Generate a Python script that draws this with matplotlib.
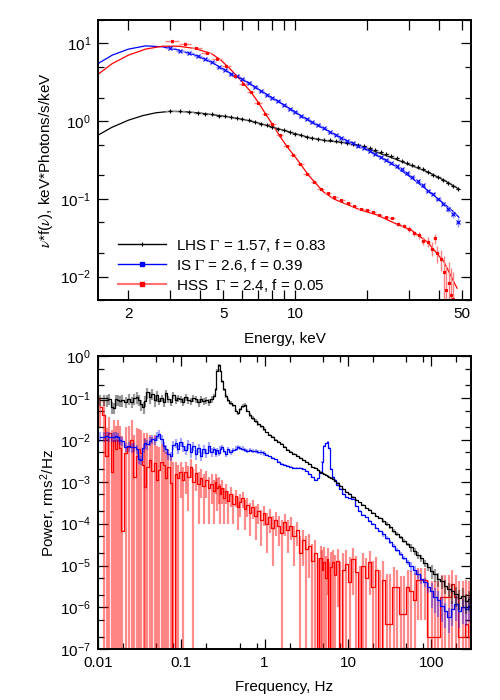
import numpy as np
import matplotlib
matplotlib.use('Agg')
import matplotlib.pyplot as plt
from matplotlib.ticker import FixedLocator, FixedFormatter, LogLocator, NullFormatter
from matplotlib.lines import Line2D

plt.rcParams['font.family'] = 'Liberation Sans'
plt.rcParams['mathtext.fontset'] = 'stix'
plt.rcParams['font.size'] = 11

# ---------------- energy spectra (top panel) ----------------
# model curves
lhs_model_e = [1.49, 1.7, 2.0, 2.3, 2.6, 3.0, 3.5, 4.0, 5.0, 6.0, 7.0, 8.0, 9.0, 10, 11.6,
               13.5, 16, 18.8, 22, 26, 30.5, 36, 42, 46, 48.5]
lhs_model = [0.66, 0.83, 1.03, 1.18, 1.28, 1.34, 1.32, 1.27, 1.16, 1.06, 0.95, 0.84, 0.76, 0.69, 0.61,
             0.56, 0.53, 0.48, 0.40, 0.33, 0.27, 0.222, 0.174, 0.148, 0.134]

is_model_e = [1.49, 1.71, 2.0, 2.36, 2.77, 3.25, 3.8, 4.45, 5.34, 6.27, 7.36, 8.6, 10.2, 12,
              14, 16.7, 19.5, 22.5, 26, 30.5, 36, 42, 45.7, 48.6]
is_model = [5.5, 7.07, 8.45, 9.3, 9.05, 8.2, 7.07, 5.75, 4.15, 3.2, 2.35, 1.75, 1.26, 0.93,
            0.73, 0.55, 0.45, 0.35, 0.27, 0.19, 0.128, 0.087, 0.07, 0.058]

hss_model_e = [1.49, 1.71, 2.0, 2.36, 2.77, 3.25, 3.8, 4.45, 4.85, 5.3, 5.65, 6.0, 6.5, 7.0, 7.5,
               8.1, 8.6, 9.2, 10.2, 11.4, 13.1, 14.5, 16, 18.8, 22.1, 26, 30.5, 35.8, 42, 47.7]
hss_model = [4.0, 5.5, 7.07, 8.45, 9.2, 9.2, 8.6, 7.4, 6.2, 4.8, 3.9, 3.2, 2.4, 1.75, 1.25,
             0.87, 0.65, 0.48, 0.32, 0.2, 0.124, 0.10, 0.088, 0.072, 0.062, 0.049, 0.040, 0.028, 0.0156, 0.0071]

# data points
e_hard = [3.0, 3.3, 3.6, 3.9, 4.2, 4.5, 4.8, 5.1, 5.4, 5.7,
          6.0, 6.4, 6.8, 7.2, 7.6, 8.0, 8.5, 9.0, 9.5, 10.0,
          10.6, 11.2, 11.8, 12.5, 13.2, 14.0, 14.8, 15.6, 16.5, 17.4,
          18.4, 19.4, 20.5, 21.6, 22.8, 24.0, 25.3, 26.6, 28.0, 29.5,
          31.0, 32.6, 34.3, 36.0, 37.8, 39.7, 41.7, 43.8, 46.0, 48.2]
lhs_flux = [1.34, 1.34, 1.32, 1.28, 1.25, 1.22, 1.18, 1.15, 1.12, 1.09,
            1.06, 1.03, 0.98, 0.93, 0.88, 0.84, 0.80, 0.76, 0.72, 0.69,
            0.66, 0.63, 0.61, 0.595, 0.58, 0.57, 0.555, 0.545, 0.53, 0.515,
            0.495, 0.475, 0.45, 0.425, 0.40, 0.38, 0.355, 0.335, 0.31, 0.29,
            0.27, 0.255, 0.24, 0.222, 0.205, 0.19, 0.175, 0.16, 0.148, 0.136]
lhs_relerr = [0.008] * 40 + [0.012, 0.012, 0.015, 0.015, 0.018, 0.02, 0.022, 0.025, 0.03, 0.035]
is_flux = [8.7, 8.1, 7.5, 6.9, 6.3, 5.7, 5.0, 4.5, 4.1, 3.8,
           3.45, 3.1, 2.75, 2.45, 2.2, 2.0, 1.8, 1.6, 1.45, 1.3,
           1.18, 1.06, 0.97, 0.89, 0.81, 0.73, 0.67, 0.61, 0.56, 0.52,
           0.48, 0.45, 0.41, 0.38, 0.35, 0.32, 0.29, 0.265, 0.24, 0.215,
           0.19, 0.17, 0.15, 0.128, 0.115, 0.10, 0.087, 0.074, 0.063, 0.050]
is_relerr = [0.012] * 40 + [0.015, 0.02, 0.02, 0.025, 0.03, 0.04, 0.05, 0.08, 0.1, 0.12]

e_hss = [3.05, 3.45, 3.85, 4.25, 4.7, 5.15, 5.6, 6.05, 6.5, 7.0,
         7.5, 8.0, 8.6, 9.2, 9.8, 10.5, 11.2, 12.0, 12.8, 13.7,
         14.6, 15.6, 16.6, 17.7, 18.8, 20.0, 21.2, 22.5, 24.0, 25.5,
         27.0, 28.5, 30.0, 31.5, 33.0, 34.5, 36.0, 37.5, 38.5, 39.5,
         41.0, 42.0, 43.0, 44.0, 45.0, 46.0]
hss_flux = [10.7, 9.9, 8.7, 7.6, 6.3, 5.1, 3.8, 3.0, 2.35, 1.72,
            1.25, 0.92, 0.66, 0.48, 0.37, 0.28, 0.21, 0.165, 0.135, 0.118,
            0.105, 0.096, 0.089, 0.082, 0.075, 0.071, 0.067, 0.062, 0.058, 0.056,
            0.047, 0.045, 0.041, 0.036, 0.034, 0.029, 0.028, 0.023, 0.031, 0.020,
            0.017, 0.0115, 0.0068, 0.0082, 0.0058, 0.0052]
hss_relerr = [0.04] * 8 + [0.03] * 22 + [0.06, 0.06, 0.08, 0.08, 0.1, 0.12] + \
             [0.15, 0.2, 0.15, 0.25, 0.3] + [0.6, 1.1, 0.9, 1.2, 1.2]

legend_labels = [r'LHS $\Gamma$ = 1.57, f = 0.83',
                 r'IS $\Gamma$ = 2.6, f = 0.39',
                 r'HSS  $\Gamma$ = 2.4, f = 0.05']

# ---------------- power spectra (bottom panel) ----------------
freq = [0.0107, 0.0117, 0.0127, 0.0137, 0.0146, 0.0156, 0.0166, 0.0176, 0.0186, 0.0195,
        0.0215, 0.0234, 0.0254, 0.0273, 0.0293, 0.0313, 0.0332, 0.0352, 0.0371, 0.0391,
        0.042, 0.0449, 0.0479, 0.0508, 0.054, 0.058, 0.062, 0.066, 0.070, 0.075,
        0.080, 0.086, 0.092, 0.098, 0.105, 0.113, 0.121, 0.130, 0.140, 0.150,
        0.161, 0.173, 0.186, 0.200, 0.215, 0.231, 0.245, 0.258, 0.270, 0.282,
        0.295, 0.310, 0.327, 0.345, 0.365, 0.39, 0.42, 0.45, 0.48, 0.51,
        0.545, 0.58, 0.62, 0.67, 0.72, 0.78, 0.84, 0.91, 0.98, 1.06,
        1.15, 1.25, 1.36, 1.48, 1.61, 1.75, 1.9, 2.07, 2.25, 2.45,
        2.67, 2.9, 3.15, 3.43, 3.73, 4.05, 4.4, 4.7, 4.95, 5.2,
        5.45, 5.7, 5.95, 6.25, 6.6, 7.0, 7.5, 8.1, 8.8, 9.6,
        10.5, 11.5, 12.6, 13.8, 15.1, 16.6, 18.2, 20, 22, 24.2,
        26.6, 29.3, 32.2, 35.4, 39, 43, 47.3, 52, 57, 63,
        69, 76, 84, 92, 101, 111, 122, 134, 148, 163,
        179, 197, 217, 239, 263, 285]

pds_lhs = [0.090, 0.090, 0.088, 0.095, 0.060, 0.058, 0.092, 0.090, 0.085, 0.088,
           0.082, 0.095, 0.080, 0.098, 0.105, 0.090, 0.070, 0.060, 0.085, 0.135,
           0.105, 0.125, 0.088, 0.115, 0.085, 0.098, 0.078, 0.130, 0.092, 0.080,
           0.115, 0.090, 0.100, 0.095, 0.082, 0.105, 0.090, 0.085, 0.100, 0.092,
           0.078, 0.095, 0.083, 0.090, 0.080, 0.095, 0.110, 0.16, 0.45, 0.60,
           0.45, 0.25, 0.16, 0.11, 0.090, 0.075, 0.066, 0.050, 0.043, 0.053,
           0.065, 0.068, 0.050, 0.040, 0.033, 0.028, 0.024, 0.021, 0.018, 0.015,
           0.013, 0.0115, 0.0100, 0.0091, 0.0080, 0.0068, 0.0058, 0.0052, 0.0046, 0.0041,
           0.0037, 0.0033, 0.0029, 0.0026, 0.0023, 0.0021, 0.0019, 0.0017, 0.0016, 0.0015,
           0.00145, 0.0014, 0.0013, 0.00125, 0.00115, 0.00105, 0.00092, 0.00080, 0.00068, 0.00058,
           5.0e-4, 4.3e-4, 3.7e-4, 3.2e-4, 2.8e-4, 2.4e-4, 2.1e-4, 1.8e-4, 1.55e-4, 1.35e-4,
           1.15e-4, 9.8e-5, 8.2e-5, 6.8e-5, 5.6e-5, 4.7e-5, 3.9e-5, 3.2e-5, 2.7e-5, 2.2e-5,
           1.8e-5, 1.5e-5, 1.15e-5, 9.2e-6, 7.5e-6, 6.2e-6, 4.8e-6, 4.2e-6, 3.3e-6, 2.8e-6,
           2.4e-6, 2.1e-6, 1.7e-6, 1.9e-6, 1.4e-6, 1.6e-6]
pds_lhs_relerr = [0.3] * 24 + [0.2] * 22 + [0.1] * 23 + [0.05] * 41 + \
                 [0.1] * 8 + [0.2] * 6 + [0.35] * 6 + [0.5] * 6

pds_is = [0.0120, 0.0120, 0.0122, 0.0120, 0.0118, 0.0120, 0.0121, 0.0119, 0.0100, 0.0095,
          0.0068, 0.0070, 0.0066, 0.0068, 0.0060, 0.0035, 0.0033, 0.0065, 0.0085, 0.0078,
          0.0095, 0.0105, 0.0100, 0.0125, 0.0140, 0.0105, 0.0070, 0.0060, 0.0045, 0.0042,
          0.0075, 0.0085, 0.0060, 0.0090, 0.0070, 0.0058, 0.0080, 0.0050, 0.0072, 0.0045,
          0.0065, 0.0042, 0.0060, 0.0048, 0.0070, 0.0052, 0.0060, 0.0045, 0.0058, 0.0048,
          0.0062, 0.0068, 0.0055, 0.0045, 0.0060, 0.0050, 0.0058, 0.0062, 0.0068, 0.0065,
          0.0062, 0.0058, 0.0055, 0.0057, 0.0054, 0.0055, 0.0052, 0.0050, 0.0048, 0.0044,
          0.0040, 0.0037, 0.0034, 0.0030, 0.0027, 0.0025, 0.0024, 0.0022, 0.0021, 0.0021,
          0.0021, 0.0020, 0.0018, 0.0015, 0.0013, 0.0011, 0.0012, 0.0016, 0.0030, 0.0070,
          0.0082, 0.0088, 0.0065, 0.0020, 0.0013, 0.0011, 8.5e-4, 6.8e-4, 5.0e-4, 4.3e-4,
          4.0e-4, 3.8e-4, 2.6e-4, 2.0e-4, 1.65e-4, 1.4e-4, 1.15e-4, 9.8e-5, 8.0e-5, 6.6e-5,
          5.5e-5, 4.6e-5, 3.7e-5, 2.9e-5, 2.4e-5, 1.9e-5, 1.5e-5, 1.2e-5, 9.5e-6, 7.8e-6,
          6.2e-6, 4.8e-6, 4.0e-6, 3.0e-6, 2.4e-6, 1.8e-6, 1.5e-6, 1.1e-6, 8e-7, 6e-7,
          9e-7, 1.2e-6, 8e-7, 1.0e-6, 9e-7, 1.1e-6]
pds_is_relerr = [0.25] * 46 + [0.12] * 23 + [0.05] * 41 + \
                [0.12] * 8 + [0.25] * 6 + [0.6] * 12

pds_hss = [0.060, 0.040, 0.0040, 0.0145, 0.0017, 0.0100, 0.0060, 0.0100, 0.0065, 6.5e-5,
           0.0048, 0.0068, 0.0100, 0.0013, 0.0041, 0.0060, 0.0048, 0.0025, 7.6e-4, 0.0023,
           0.0033, 0.0018, 0.0028, 0.0011, 0.0019, 0.0030, 0.0025, 0.0012, 0.0022, 9.3e-4,
           1e-8, 0.0015, 0.0012, 0.0017, 0.0011, 0.0017, 0.0013, 0.0023, 0.0010, 0.0016,
           9e-4, 0.0012, 8e-4, 0.0011, 7e-4, 9e-4, 6e-4, 0.0010, 7e-4, 8e-4,
           5e-4, 7e-4, 4e-4, 6e-4, 3.5e-4, 5e-4, 3e-4, 4.5e-4, 2.5e-4, 3.2e-4,
           4e-4, 2.2e-4, 2.8e-4, 1.8e-4, 2.5e-4, 1.5e-4, 2e-4, 1.2e-4, 1.8e-4, 1e-4,
           1.4e-4, 8e-5, 1.2e-4, 9e-5, 6e-5, 1.1e-4, 7e-5, 9e-5, 5e-5, 7e-5,
           2e-5, 4e-5, 2.5e-5, 3e-5, 1.3e-5, 2e-5, 1e-8, 1.5e-5, 8e-6, 1.2e-5,
           5e-6, 1.4e-5, 1e-8, 9e-6, 1.2e-5, 6e-6, 1.3e-5, 1e-8, 8e-6, 1.1e-5,
           4e-6, 1.4e-5, 7e-6, 1e-8, 1e-5, 5e-6, 1.2e-5, 3e-6, 8e-6, 1e-8,
           4.5e-6, 4e-7, 4e-7, 3e-6, 3e-6, 7e-7, 7e-7, 3e-6, 2.5e-6, 1.5e-6,
           4.5e-6, 4.5e-6, 4.5e-6, 2e-7, 2e-7, 2e-7, 2e-7, 1.8e-6, 1.8e-6, 1.8e-6,
           3.7e-6, 1.8e-6, 2e-7, 2e-7, 4e-7, 2e-7]
pds_hss_err = [0.04, 0.05, 0.015, 0.02, 0.015, 0.02, 0.015, 0.02, 0.015, 0.012,
               0.015, 0.015, 0.02, 0.012, 0.015, 0.012, 0.012, 0.012, 0.010, 0.012,
               0.010, 0.010, 0.010, 0.006, 0.005, 0.005, 0.005, 0.004, 0.004, 0.003,
               0.003, 0.0015, 0.0013, 0.0013, 0.0012, 0.0012, 0.0011, 0.0011, 0.0010, 0.0010,
               8e-4, 8e-4, 7e-4, 7e-4, 6e-4, 6e-4, 5e-4, 5e-4, 5e-4, 5e-4,
               4e-4, 4e-4, 3e-4, 3e-4, 2.5e-4, 2.5e-4, 2e-4, 2e-4, 1.8e-4, 1.8e-4,
               1.6e-4, 1.5e-4, 1.4e-4, 1.3e-4, 1.2e-4, 1.1e-4, 1e-4, 9e-5, 9e-5, 8e-5,
               8e-5, 7e-5, 7e-5, 6e-5, 6e-5, 6e-5, 5e-5, 5e-5, 4e-5, 4e-5,
               3e-5, 3e-5, 2.5e-5, 2.5e-5, 2e-5, 2e-5, 1.5e-5, 1.5e-5, 1.5e-5, 1.5e-5,
               1.2e-5, 1.2e-5, 1.2e-5, 1.2e-5, 1.2e-5, 1.2e-5, 1.2e-5, 1.2e-5, 1.2e-5, 1.2e-5,
               1.2e-5, 1.2e-5, 1e-5, 1e-5, 1e-5, 1e-5, 1e-5, 1e-5, 8e-6, 8e-6,
               8e-6, 6e-6, 6e-6, 6e-6, 5e-6, 5e-6, 5e-6, 5e-6, 5e-6, 5e-6,
               4e-6, 4e-6, 4e-6, 4e-6, 4e-6, 4e-6, 4e-6, 4e-6, 4e-6, 4e-6,
               4e-6, 4e-6, 4e-6, 4e-6, 4e-6, 4e-6]

fig = plt.figure(figsize=(5, 7), dpi=100)
ax1 = fig.add_axes([0.196, 0.5714, 0.746, 0.40])
ax2 = fig.add_axes([0.196, 0.0724, 0.746, 0.419])

# ---- top panel ----
ax1.set_xscale('log')
ax1.set_yscale('log')
ax1.plot(lhs_model_e, lhs_model, color='black', lw=0.9)
ax1.plot(is_model_e, is_model, color='blue', lw=0.9)
ax1.plot(hss_model_e, hss_model, color='red', lw=0.9)

sets = [(e_hard, lhs_flux, lhs_relerr, 'black', '#8c8c8c', '+', 3.0),
        (e_hard, is_flux, is_relerr, 'blue', '#8f8fff', 'x', 2.2),
        (e_hss, hss_flux, hss_relerr, 'red', '#ff8080', 's', 1.8)]
for e, y, r, col, ecol, mk, ms in sets:
    e = np.array(e)
    y = np.array(y)
    err = y * np.array(r)
    lo = np.minimum(err, y - 1e-4)
    xe = np.gradient(e) / 2
    ax1.errorbar(e, y, xerr=xe, yerr=[lo, err], fmt=mk, ms=ms, mew=0.8,
                 color=col, mfc=col, ecolor=ecol, elinewidth=1.0, capsize=0)

ax1.set_xlim(1.49, 54.6)
ax1.set_ylim(5e-3, 20)
ax1.xaxis.set_major_locator(FixedLocator([2, 5, 10, 50]))
ax1.xaxis.set_major_formatter(FixedFormatter(['2', '5', '10', '50']))
ax1.xaxis.set_minor_locator(FixedLocator([3, 4, 6, 7, 8, 9, 20, 30, 40]))
ax1.xaxis.set_minor_formatter(NullFormatter())
ax1.set_xlabel('Energy, keV', labelpad=8)
ax1.set_ylabel(r'$\nu$*f($\nu$), keV*Photons/s/keV', labelpad=4)

handles = [Line2D([], [], color='black', lw=1.0, marker='+', ms=3.5, mew=0.8),
           Line2D([], [], color='blue', lw=1.0, marker='s', ms=2.5),
           Line2D([], [], color='#ff7070', lw=1.5, marker='s', ms=3, mfc='red', mec='red')]
ax1.legend(handles, legend_labels, loc='lower left', bbox_to_anchor=(0.03, -0.01),
           frameon=False, handlelength=3.1, handletextpad=0.7, labelspacing=0.2,
           borderaxespad=0.2, fontsize=11)

# ---- bottom panel ----
ax2.set_xscale('log')
ax2.set_yscale('log')
f = np.array(freq)

p = np.array(pds_hss)
e = np.array(pds_hss_err)
ax2.vlines(f, np.maximum(p - e, 1e-9), p + e, color=(1, 0, 0, 0.45), lw=1.6)
ax2.step(f, np.maximum(p, 1e-9), where='mid', color='red', lw=0.9)

p = np.array(pds_is)
e = p * np.array(pds_is_relerr)
ax2.vlines(f, p - e, p + e, color=(0, 0, 1, 0.35), lw=1.6)
ax2.step(f, p, where='mid', color='blue', lw=0.9)

p = np.array(pds_lhs)
e = p * np.array(pds_lhs_relerr)
ax2.vlines(f, p - e, p + e, color=(0, 0, 0, 0.4), lw=1.6)
ax2.step(f, p, where='mid', color='black', lw=0.9)

ax2.set_xlim(0.01, 300)
ax2.set_ylim(1e-7, 1)
ax2.xaxis.set_major_locator(FixedLocator([0.01, 0.1, 1, 10, 100]))
ax2.xaxis.set_major_formatter(FixedFormatter(['0.01', '0.1', '1', '10', '100']))
ax2.xaxis.set_minor_locator(FixedLocator([0.02, 0.05, 0.08, 0.2, 0.5, 0.8, 2, 5, 8,
                                          20, 50, 80, 200]))
ax2.xaxis.set_minor_formatter(NullFormatter())
ax2.set_xlabel('Frequency, Hz', labelpad=7)
ax2.set_ylabel(r'Power, rms$^\mathregular{2}$/Hz', labelpad=1)

for ax in (ax1, ax2):
    ax.yaxis.set_major_locator(LogLocator(base=10, numticks=20))
    ax.yaxis.set_minor_locator(LogLocator(base=10, subs=(2, 5), numticks=20))
    ax.yaxis.set_minor_formatter(NullFormatter())
    ax.tick_params(which='both', direction='in', top=True, right=True, width=0.9, labelsize=11)
    ax.tick_params(which='major', length=7, pad=5)
    ax.tick_params(which='minor', length=4)
    for s in ax.spines.values():
        s.set_linewidth(1.4)
ax1.tick_params(axis='x', which='minor', length=7)

fig.savefig('out.png', dpi=100)
